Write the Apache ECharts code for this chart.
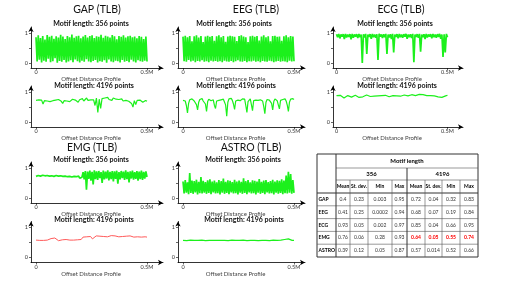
<!DOCTYPE html>
<html><head><meta charset="utf-8">
<script src="https://cdn.jsdelivr.net/npm/echarts@6/dist/echarts.min.js"></script>
<style>html,body{margin:0;padding:0;background:#fff}#c{width:507px;height:285px}</style>
</head><body><div id="c"></div>
<script>
// ---------- data ----------
const gap356 = [0.86,0.05,0.92,0.11,0.83,0.02,0.90,0.08,0.78,0.04,0.93,0.14,0.87,0.03,0.91,0.06,0.81,0.16,0.89,0.01,0.85,0.07,0.94,0.04,0.88,0.10,0.80,0.02,0.90,0.05,0.86,0.09,0.95,0.03,0.84,0.12,0.89,0.06,0.91,0.02,0.82,0.08,0.88,0.04,0.93,0.13,0.85,0.05,0.90,0.03,0.92,0.07,0.83,0.10,0.89,0.02,0.87,0.06,0.94,0.04,0.84,0.09,0.91,0.01,0.88,0.12,0.85,0.05,0.93,0.03,0.89,0.08,0.79,0.06,0.90,0.02,0.87,0.10,0.92,0.04,0.85,0.07,0.89,0.03,0.91,0.11,0.86,0.05,0.88,0.02,0.82,0.09,0.90,0.06,0.87,0.04,0.80,0.08,0.88,0.05];
const gap4196 = [0.72,0.70,0.74,0.69,0.73,0.60,0.71,0.75,0.70,0.72,0.68,0.74,0.71,0.66,0.73,0.70,0.75,0.72,0.69,0.62,0.71,0.74,0.70,0.73,0.68,0.72,0.76,0.70,0.73,0.71,0.66,0.74,0.72,0.78,0.70,0.75,0.80,0.72,0.76,0.74,0.79,0.74,0.55,0.80,0.32,0.76,0.45,0.78,0.74,0.80,0.77,0.82,0.75,0.78,0.72,0.80,0.74,0.76,0.71,0.75,0.73,0.77,0.70,0.74,0.72,0.76,0.69,0.73,0.62,0.50,0.71,0.58,0.72,0.68,0.73,0.70,0.66,0.71,0.72,0.69];
const eeg356 = [0.88,0.06,0.91,0.04,0.86,0.10,0.90,0.05,0.72,0.08,0.89,0.03,0.92,0.07,0.85,0.05,0.90,0.09,0.70,0.04,0.88,0.06,0.91,0.03,0.87,0.08,0.90,0.05,0.74,0.07,0.89,0.04,0.92,0.06,0.86,0.03,0.90,0.08,0.71,0.05,0.88,0.04,0.91,0.07,0.89,0.03,0.87,0.06,0.73,0.09,0.90,0.05,0.92,0.04,0.88,0.07,0.86,0.03,0.70,0.06,0.89,0.05,0.91,0.08,0.87,0.04,0.90,0.06,0.75,0.03,0.88,0.07,0.92,0.05,0.86,0.04,0.89,0.08,0.72,0.06,0.90,0.03,0.91,0.05,0.87,0.07,0.88,0.04,0.74,0.06,0.89,0.05,0.92,0.03,0.86,0.08,0.90,0.05,0.88,0.06];
const eeg4196 = [0.72,0.75,0.70,0.55,0.30,0.62,0.74,0.71,0.77,0.73,0.70,0.76,0.58,0.40,0.66,0.75,0.72,0.78,0.70,0.74,0.60,0.35,0.68,0.76,0.73,0.71,0.77,0.74,0.56,0.45,0.70,0.75,0.72,0.78,0.74,0.71,0.76,0.73,0.57,0.19,0.66,0.77,0.74,0.79,0.72,0.60,0.42,0.70,0.76,0.73,0.78,0.71,0.75,0.77,0.72,0.76,0.55,0.32,0.68,0.74,0.77,0.58,0.38,0.71,0.76,0.73,0.79,0.72,0.75,0.74,0.77,0.70,0.52,0.28,0.66,0.75,0.78,0.73,0.76,0.62,0.40,0.69,0.77,0.74,0.71,0.57,0.44,0.72,0.78,0.75,0.73,0.77,0.70,0.56,0.35,0.67,0.76,0.74,0.78,0.75];
const ecg356 = [0.96,0.86,0.97,0.82,0.95,0.88,0.96,0.80,0.97,0.85,0.95,0.87,0.96,0.79,0.97,0.84,0.95,0.88,0.96,0.83,0.97,0.86,0.95,0.00,0.96,0.85,0.97,0.30,0.95,0.87,0.96,0.81,0.97,0.86,0.95,0.84,0.96,0.10,0.97,0.88,0.95,0.83,0.96,0.86,0.97,0.30,0.95,0.85,0.96,0.80,0.97,0.35,0.95,0.87,0.96,0.82,0.97,0.86,0.95,0.84,0.96,0.88,0.97,0.81,0.95,0.86,0.96,0.83,0.97,0.03,0.95,0.87,0.96,0.84,0.97,0.38,0.95,0.86,0.96,0.80,0.97,0.85,0.95,0.88,0.96,0.82,0.97,0.86,0.95,0.84,0.96,0.87,0.97,0.81,0.95,0.20,0.96,0.35,0.97,0.86];
const ecg4196 = [0.88,0.86,0.89,0.84,0.80,0.85,0.88,0.86,0.83,0.87,0.89,0.85,0.82,0.86,0.84,0.88,0.90,0.87,0.85,0.88,0.86,0.89,0.87,0.91,0.88,0.86,0.89,0.87,0.84,0.86,0.88,0.85,0.87,0.89,0.86,0.88,0.90,0.88,0.87,0.89,0.91,0.90,0.88,0.90,0.92,0.89,0.91,0.90,0.88,0.86,0.88,0.85,0.87,0.83,0.84,0.86,0.82,0.84,0.87,0.89];
const emg356 = [0.72,0.69,0.75,0.70,0.73,0.68,0.76,0.71,0.74,0.69,0.75,0.70,0.73,0.68,0.74,0.71,0.72,0.69,0.75,0.70,0.73,0.68,0.74,0.70,0.72,0.67,0.73,0.69,0.71,0.66,0.72,0.68,0.70,0.66,0.72,0.67,0.71,0.68,0.73,0.66,0.72,0.69,0.86,0.62,0.90,0.28,0.88,0.64,0.91,0.58,0.87,0.45,0.92,0.63,0.89,0.60,0.90,0.66,0.86,0.50,0.91,0.62,0.88,0.65,0.92,0.59,0.87,0.63,0.90,0.55,0.89,0.64,0.91,0.48,0.86,0.62,0.90,0.66,0.88,0.60,0.92,0.63,0.87,0.52,0.89,0.65,0.91,0.61,0.86,0.64,0.90,0.58,0.88,0.63,0.91,0.60,0.87,0.65,0.89,0.70];
const emg4196 = [0.58,0.59,0.57,0.58,0.57,0.59,0.58,0.60,0.63,0.66,0.65,0.60,0.56,0.58,0.59,0.58,0.60,0.59,0.58,0.59,0.58,0.57,0.59,0.58,0.60,0.68,0.70,0.69,0.71,0.70,0.62,0.68,0.72,0.74,0.71,0.73,0.70,0.72,0.69,0.71,0.73,0.70,0.72,0.71,0.69,0.72,0.70,0.68,0.71,0.69,0.72,0.70,0.68,0.71,0.69,0.70,0.68,0.70,0.69,0.68];
const astro356 = [0.55,0.15,0.60,0.18,0.52,0.13,0.83,0.17,0.58,0.14,0.56,0.19,0.61,0.12,0.54,0.16,0.70,0.15,0.57,0.18,0.53,0.14,0.59,0.17,0.62,0.13,0.55,0.19,0.58,0.15,0.52,0.16,0.60,0.12,0.56,0.18,0.65,0.14,0.54,0.17,0.59,0.13,0.57,0.19,0.53,0.15,0.61,0.16,0.55,0.12,0.58,0.18,0.54,0.14,0.66,0.17,0.56,0.13,0.60,0.19,0.52,0.15,0.59,0.16,0.57,0.12,0.55,0.18,0.63,0.14,0.54,0.17,0.58,0.13,0.60,0.19,0.53,0.15,0.56,0.16,0.61,0.12,0.55,0.18,0.59,0.14,0.57,0.17,0.62,0.13,0.58,0.16,0.75,0.15,0.87,0.18,0.80,0.14,0.60,0.17];
const astro4196 = [0.57,0.57,0.56,0.57,0.58,0.57,0.57,0.56,0.57,0.57,0.58,0.57,0.56,0.57,0.57,0.58,0.57,0.56,0.57,0.57,0.57,0.58,0.57,0.57,0.56,0.57,0.58,0.57,0.57,0.56,0.57,0.57,0.58,0.57,0.56,0.57,0.57,0.58,0.57,0.57,0.56,0.57,0.57,0.58,0.57,0.57,0.56,0.57,0.58,0.57,0.57,0.57,0.58,0.57,0.60,0.66,0.62,0.58,0.57,0.57];

const datasetNames = ['GAP (TLB)','EEG (TLB)','ECG (TLB)','EMG (TLB)','ASTRO (TLB)'];
const motifLabels = ['Motif length: 356 points','Motif length: 4196 points'];
const xAxisName = 'Offset Distance Profile';
const xTickValues = [0, 0.5];
const xTickLabels = ['0','0.5M'];
const yTickValues = [0, 0.5, 1];
const yLabelValues = [0, 1];
const xSpan = 0.5; // profile length in M

// table
const tableHeader = 'Motif length';
const tableGroups = ['356','4196'];
const tableStats = ['Mean','St. dev.','Min','Max'];
const tableRows = ['GAP','EEG','ECG','EMG','ASTRO'];
const tableCells = [
  ['0.4','0.23','0.003','0.95','0.72','0.04','0.32','0.83'],
  ['0.41','0.25','0.0002','0.94','0.68','0.07','0.19','0.84'],
  ['0.93','0.05','0.002','0.97','0.85','0.04','0.66','0.95'],
  ['0.76','0.06','0.28','0.93','0.64','0.05','0.55','0.74'],
  ['0.39','0.12','0.05','0.87','0.57','0.014','0.52','0.66']
];
const highlight = {row: 3, from: 4}; // EMG, 4196 columns in red

// ---------- layout ----------
const FONT = 'Lato';
const PXM = 222, PXU = 30;
const cols = [{left:31, x0:36, right:163}, {left:178, x0:183, right:305}, {left:333, x0:336.5, right:463}];
const rowsY0 = [63, 122, 198, 257.5];
const GREEN = '#1cf01c', RED = '#ff5a5a';
const panels = [
  {d:gap356, c:0, r:0, color:GREEN, w:1.7}, {d:gap4196, c:0, r:1, color:GREEN, w:1.2},
  {d:eeg356, c:1, r:0, color:GREEN, w:1.7}, {d:eeg4196, c:1, r:1, color:GREEN, w:1.2},
  {d:ecg356, c:2, r:0, color:GREEN, w:1.7}, {d:ecg4196, c:2, r:1, color:GREEN, w:1.2},
  {d:emg356, c:0, r:2, color:GREEN, w:1.7}, {d:emg4196, c:0, r:3, color:RED, w:1},
  {d:astro356, c:1, r:2, color:GREEN, w:1.7}, {d:astro4196, c:1, r:3, color:GREEN, w:1.2}
];
const titlePos = [[97,10],[256,10],[401,10],[92,148],[251,148]];
const motifPos = [[91,24],[94,86],[234,24],[236,86],[395,24],[397,86],[91,160],[94,220],[243,160],[244,220]];
const motifIdx = [0,1,0,1,0,1,0,1,0,1];

const grids = [], xAxes = [], yAxes = [], series = [];
panels.forEach((p, i) => {
  const c = cols[p.c], y0 = rowsY0[p.r];
  grids.push({left:c.left, width:c.right - c.left, top:y0 - 1.2*PXU, height:(1.2 + 5/PXU)*PXU, containLabel:false, outerBoundsMode:'none'});
  xAxes.push({
    type:'value', gridIndex:i, min:-(c.x0 - c.left)/PXM, max:(c.right - c.x0)/PXM,
    name:xAxisName, nameLocation:'middle', nameGap:1.5,
    nameTextStyle:{fontFamily:FONT, fontSize:6, color:'#444', padding:[0,12,0,0], verticalAlign:'top'},
    axisLine:{onZero:false, symbol:['none','arrow'], symbolSize:[4,5], lineStyle:{color:'#000', width:0.8}},
    axisTick:{show:true, customValues:xTickValues, length:2, lineStyle:{color:'#000', width:0.6}},
    axisLabel:{customValues:xTickValues, margin:1.5, fontFamily:FONT, fontSize:5.5, color:'#333',
      formatter:v => xTickLabels[xTickValues.indexOf(v)]},
    splitLine:{show:false}
  });
  yAxes.push({
    type:'value', gridIndex:i, min:-5/PXU, max:1.2,
    axisLine:{show:true, onZero:false, symbol:['none','arrow'], symbolSize:[4,5], lineStyle:{color:'#000', width:0.8}},
    axisTick:{show:true, customValues:yTickValues, length:2, lineStyle:{color:'#000', width:0.6}},
    axisLabel:{customValues:yLabelValues, margin:3, fontFamily:FONT, fontSize:5.5, color:'#333'},
    splitLine:{show:false}
  });
  const n = p.d.length;
  series.push({
    type:'line', xAxisIndex:i, yAxisIndex:i, symbol:'none', silent:true, animation:false,
    lineStyle:{color:p.color, width:p.w}, itemStyle:{color:p.color},
    data:p.d.map((v, k) => [k * xSpan / (n - 1), v])
  });
});

// ---------- text + table graphics ----------
const graphics = [];
const txt = (x, y, text, font, fill) => ({type:'text', x, y, silent:true,
  style:{text, font, fill: fill || '#000', align:'center', verticalAlign:'middle', textAlign:'center', textVerticalAlign:'middle'}});
datasetNames.forEach((t, i) => graphics.push(txt(titlePos[i][0], titlePos[i][1], t, '10.5px ' + FONT, '#111')));
panels.forEach((p, i) => graphics.push(txt(motifPos[i][0], motifPos[i][1], motifLabels[motifIdx[i]], 'bold 7px ' + FONT, '#111')));

const TX = [317, 336, 350, 368, 392, 407, 425, 442, 460, 478];
const TY = {top:154, motif:168, group:180, head:193, rowH:12.8};
const bottom = TY.head + TY.rowH * tableRows.length;
const ln = (x1, y1, x2, y2, w, col) => ({type:'line', silent:true, shape:{x1, y1, x2, y2}, style:{stroke: col || '#555', lineWidth: w || 0.6}});
graphics.push({type:'rect', silent:true, shape:{x:TX[0], y:TY.top, width:TX[9]-TX[0], height:bottom-TY.top}, style:{fill:'none', stroke:'#333', lineWidth:1}});
graphics.push(ln(TX[1], TY.motif, TX[9], TY.motif));
graphics.push(ln(TX[1], TY.group, TX[9], TY.group));
graphics.push(ln(TX[0], TY.head, TX[9], TY.head, 1, '#333'));
for (let r = 1; r < tableRows.length; r++) graphics.push(ln(TX[0], TY.head + r*TY.rowH, TX[9], TY.head + r*TY.rowH));
graphics.push(ln(TX[1], TY.top, TX[1], bottom, 1, '#333'));
graphics.push(ln(TX[5], TY.motif, TX[5], bottom, 1, '#333'));
[2,3,4,6,7,8].forEach(k => graphics.push(ln(TX[k], TY.group, TX[k], bottom)));
graphics.push(txt((TX[1]+TX[9])/2, (TY.top+TY.motif)/2, tableHeader, 'bold 6px ' + FONT));
tableGroups.forEach((g, gi) => graphics.push(txt((TX[1+gi*4]+TX[5+gi*4])/2, (TY.motif+TY.group)/2, g, 'bold 6px ' + FONT)));
for (let k = 0; k < 8; k++) graphics.push(txt((TX[k+1]+TX[k+2])/2, (TY.group+TY.head)/2, tableStats[k % 4], 'bold 5px ' + FONT));
tableRows.forEach((rname, r) => {
  const cy = TY.head + (r + 0.5) * TY.rowH;
  graphics.push({type:'text', x:TX[0]+1.5, y:cy, silent:true, style:{text:rname, font:'bold 5px ' + FONT, fill:'#000', align:'left', verticalAlign:'middle', textAlign:'left', textVerticalAlign:'middle'}});
  tableCells[r].forEach((v, k) => {
    const hi = r === highlight.row && k >= highlight.from;
    graphics.push(txt((TX[k+1]+TX[k+2])/2, cy, v, (hi ? 'bold ' : '') + '5px ' + FONT, hi ? '#ff0000' : '#333'));
  });
});

const chart = echarts.init(document.getElementById('c'), null, {renderer:'canvas'});
chart.setOption({
  animation:false, backgroundColor:'#fff', textStyle:{fontFamily:FONT},
  grid:grids, xAxis:xAxes, yAxis:yAxes, series, graphic:{elements:graphics}
});
</script></body></html>
